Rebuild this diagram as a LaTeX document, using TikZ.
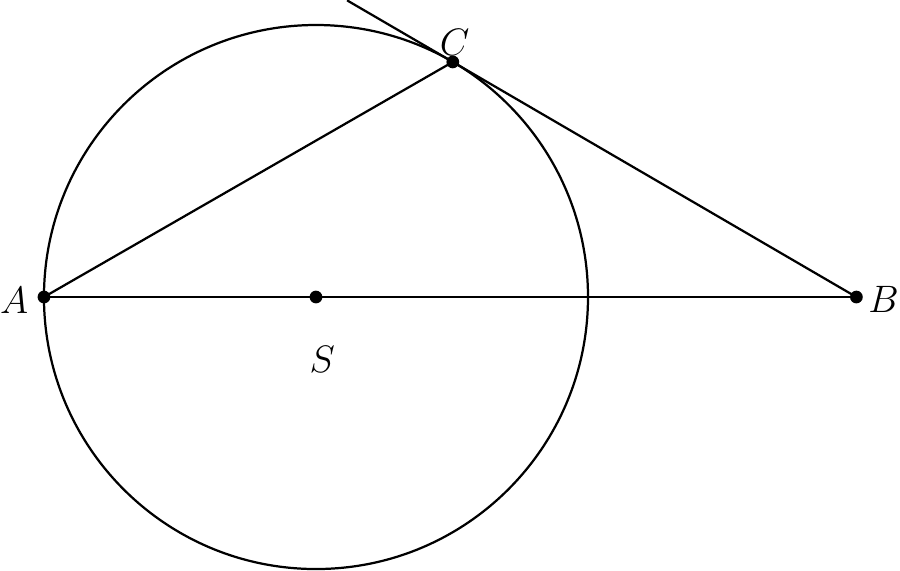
\documentclass[tikz,border=0pt]{standalone}
\usetikzlibrary{calc}
\tikzset{
   dot/.style={circle, fill=black, inner sep=0pt, minimum size=4pt},
   pointlabel/.style={font=\fontsize{12}{14}\selectfont, inner sep=1pt}
}
\begin{document}
\begin{tikzpicture}[line width=0.7pt]

   \useasboundingbox (-3.485,-3.011) rectangle (6.441,3.276);

   % 点
   \coordinate (S) at (0,0);
   \coordinate (A) at (-3,0);
   \coordinate (B) at (5.96,0);
   \coordinate (C) at (59.8:3);
   \coordinate (T) at ($(B)!1.262!(C)$);

   % 円
   \draw (S) circle (3);

   % 線分
   \draw (A)--(B);
   \draw (A)--(C);
   \draw (T)--(B);

   % 点と名前
   \node [dot] (dA) at (A) {};
   \node [dot] (dB) at (B) {};
   \node [dot] (dC) at (C) {};
   \node [dot] (dS) at (S) {};
   \node [pointlabel] (lA) at (-3.33,-0.04) {$A$};
   \node [pointlabel] (lB) at (6.26,-0.03) {$B$};
   \node [pointlabel] (lC) at (1.53,2.81) {$C$};
   \node [pointlabel] (lS) at (0.07,-0.69) {$S$};

\end{tikzpicture}
\end{document}
